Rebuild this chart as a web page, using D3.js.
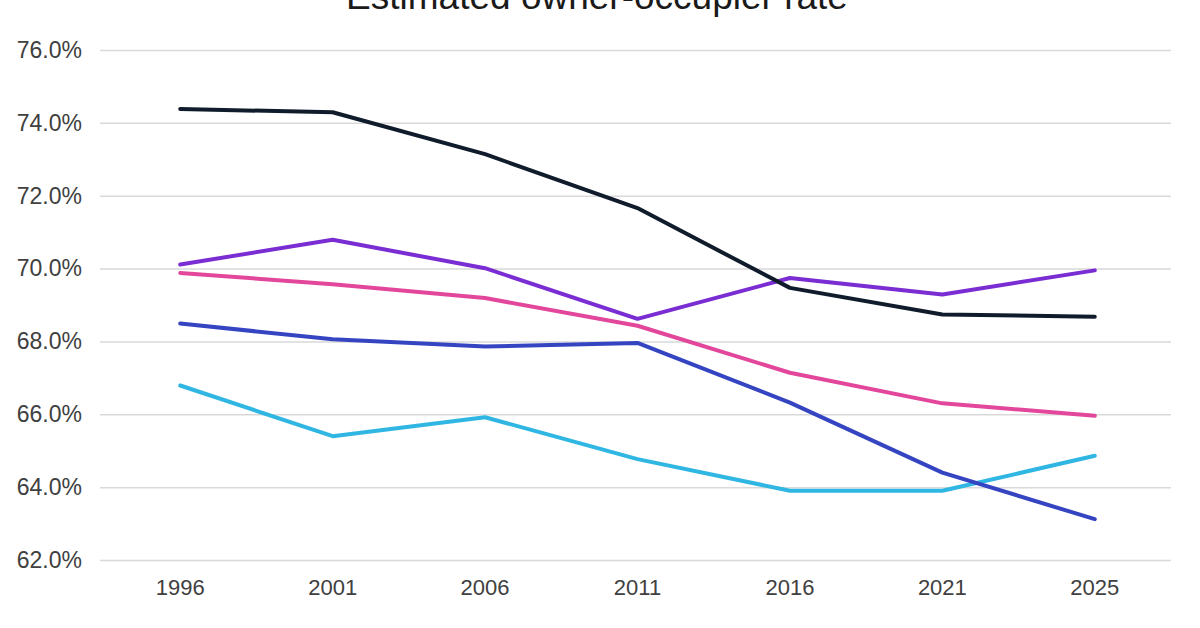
<!DOCTYPE html>
<html>
<head>
<meta charset="utf-8">
<script src="https://cdn.jsdelivr.net/npm/d3@7"></script>
<style>
  body { margin: 0; background: #fff; }
  text { font-family: "Liberation Sans", Arial, sans-serif; }
</style>
</head>
<body>
<div id="chart"></div>
<script>
// Categories (evenly spaced on a category axis)
const years = ['1996', '2001', '2006', '2011', '2016', '2021', '2025'];
const yTicks = [62, 64, 66, 68, 70, 72, 74, 76];

// Series values (percent)
const seriesDark   = [74.38, 74.29, 73.14, 71.66, 69.47, 68.74, 68.68];
const seriesPurple = [70.11, 70.79, 70.01, 68.62, 69.74, 69.29, 69.95];
const seriesPink   = [69.88, 69.57, 69.19, 68.43, 67.14, 66.30, 65.96];
const seriesBlue   = [68.49, 68.06, 67.86, 67.96, 66.32, 64.40, 63.12];
const seriesCyan   = [66.79, 65.40, 65.92, 64.77, 63.90, 63.90, 64.86];

const seriesList = [
  { values: seriesCyan,   color: '#2fb6e2' },
  { values: seriesBlue,   color: '#3545c2' },
  { values: seriesPink,   color: '#e2479c' },
  { values: seriesPurple, color: '#7a2dd2' },
  { values: seriesDark,   color: '#101c2c' }
];

const width = 1200, height = 628;
const margin = { top: 50, right: 29, bottom: 68, left: 104 };

const svg = d3.select('#chart').append('svg')
  .attr('width', width)
  .attr('height', height);

const x = d3.scaleBand()
  .domain(years)
  .range([margin.left, width - margin.right]);

const y = d3.scaleLinear()
  .domain([62, 76])
  .range([height - margin.bottom, margin.top]);

// Title (cropped at the top edge, as in the reference)
svg.append('text')
  .attr('x', 597)
  .attr('y', 9)
  .attr('text-anchor', 'middle')
  .style('font-size', '37px')
  .style('fill', '#1a1a1a')
  .text('Estimated owner-occupier rate');

// Gridlines + y labels
const yAxis = svg.append('g')
  .attr('transform', `translate(${margin.left},0)`)
  .call(d3.axisLeft(y)
    .tickValues(yTicks)
    .tickSize(-(width - margin.left - margin.right))
    .tickPadding(22)
    .tickFormat(d => d.toFixed(1) + '%'));
yAxis.select('.domain').remove();
yAxis.selectAll('.tick line')
  .attr('x1', -4)
  .attr('stroke', '#d9d9d9')
  .attr('stroke-width', 1.5);
yAxis.selectAll('.tick text')
  .style('font-size', '23px')
  .style('fill', '#404040');

// X labels
const xAxis = svg.append('g')
  .attr('transform', `translate(0,${height - margin.bottom})`)
  .call(d3.axisBottom(x).tickSize(0).tickPadding(19));
xAxis.select('.domain').remove();
xAxis.selectAll('.tick text')
  .style('font-size', '22px')
  .style('fill', '#404040');

// Lines
const line = d3.line()
  .x((d, i) => x(years[i]) + x.bandwidth() / 2)
  .y(d => y(d));

svg.append('g')
  .selectAll('path')
  .data(seriesList)
  .join('path')
  .attr('d', d => line(d.values))
  .attr('fill', 'none')
  .attr('stroke', d => d.color)
  .attr('stroke-width', 4)
  .attr('stroke-linejoin', 'round')
  .attr('stroke-linecap', 'round');
</script>
</body>
</html>
